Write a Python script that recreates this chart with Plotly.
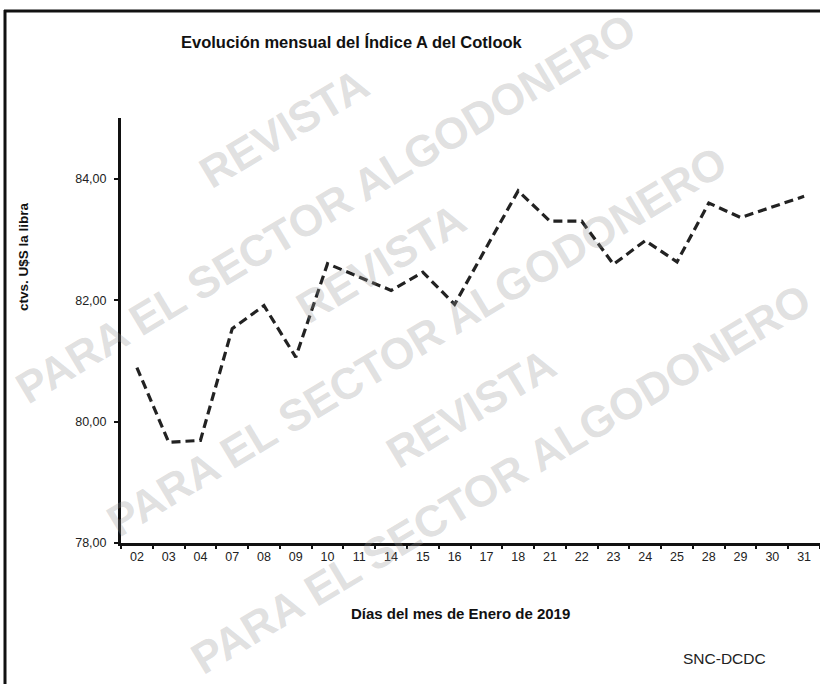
import plotly.graph_objects as go

days = ["02", "03", "04", "07", "08", "09", "10", "11", "14", "15", "16",
        "17", "18", "21", "22", "23", "24", "25", "28", "29", "30", "31"]
index_a = [80.89, 79.66, 79.69, 81.53, 81.91, 81.06, 82.60, 82.38, 82.16, 82.46, 81.93,
           82.87, 83.80, 83.30, 83.30, 82.59, 82.98, 82.63, 83.60, 83.36, 83.54, 83.71]
y_ticks = [78, 80, 82, 84]

title_text = "Evolución mensual del Índice A del Cotlook"
y_title = "ctvs. U$S la libra"
x_title = "Días del mes de Enero de 2019"
source_text = "SNC-DCDC"
wm_top = "REVISTA"
wm_line = "PARA EL SECTOR ALGODONERO"

W, H = 820, 684
ML, MR, MT, MB = 121, 0, 118, 141
PW = W - ML - MR
PH = H - MT - MB


def px(x):
    return (x - ML) / PW


def py(y):
    return (H - MB - y) / PH


fig = go.Figure()
fig.add_trace(go.Scatter(
    x=days, y=index_a, mode="lines",
    line=dict(color="#222222", width=3.2, dash="9px,5px"),
    hoverinfo="x+y", showlegend=False,
))

font_fam = "Liberation Sans, Arial, sans-serif"
annotations = []

# watermark
wm_color = "rgba(150,150,150,0.30)"
wm_rows = [((325, 208), (283, 128)), ((416, 341), (380, 263)), ((501, 478), (470, 408))]
for (lc, rc) in wm_rows:
    annotations.append(dict(text="<b>" + wm_line + "</b>", x=px(lc[0]), y=py(lc[1]),
                            xref="paper", yref="paper", showarrow=False, textangle=-31,
                            xanchor="center", yanchor="middle",
                            font=dict(family=font_fam, size=44, color=wm_color)))
    annotations.append(dict(text="<b>" + wm_top + "</b>", x=px(rc[0]), y=py(rc[1]),
                            xref="paper", yref="paper", showarrow=False, textangle=-31,
                            xanchor="center", yanchor="middle",
                            font=dict(family=font_fam, size=44, color=wm_color)))

annotations += [
    dict(text="<b>" + title_text + "</b>", x=px(352), y=py(42), xref="paper", yref="paper",
         showarrow=False, xanchor="center", yanchor="middle",
         font=dict(family=font_fam, size=16.5, color="#111111")),
    dict(text="<b>" + y_title + "</b>", x=px(23), y=py(257), xref="paper", yref="paper",
         showarrow=False, xanchor="center", yanchor="middle", textangle=-90,
         font=dict(family=font_fam, size=13.5, color="#111111")),
    dict(text="<b>" + x_title + "</b>", x=px(460), y=py(613), xref="paper", yref="paper",
         showarrow=False, xanchor="center", yanchor="middle",
         font=dict(family=font_fam, size=15, color="#111111")),
    dict(text=source_text, x=px(724), y=py(658), xref="paper", yref="paper",
         showarrow=False, xanchor="center", yanchor="middle",
         font=dict(family=font_fam, size=15.5, color="#222222")),
]

shapes = [
    dict(type="line", xref="paper", yref="paper", x0=px(5), x1=px(5), y0=py(10), y1=py(700),
         line=dict(color="#111111", width=3)),
    dict(type="line", xref="paper", yref="paper", x0=px(4), x1=px(830), y0=py(11), y1=py(11),
         line=dict(color="#111111", width=3)),
]

fig.update_layout(
    width=W, height=H,
    margin=dict(l=ML, r=MR, t=MT, b=MB),
    paper_bgcolor="white", plot_bgcolor="rgba(0,0,0,0)",
    separators=",.",
    showlegend=False,
    annotations=annotations,
    shapes=shapes,
    font=dict(family=font_fam, color="#222222"),
    xaxis=dict(
        type="category", categoryorder="array", categoryarray=days,
        showline=True, linecolor="#111111", linewidth=3,
        ticks="outside", tickson="boundaries", ticklen=3, tickwidth=2, tickcolor="#111111",
        showgrid=False, zeroline=False,
        tickfont=dict(family=font_fam, size=12.5, color="#222222"),
        range=[-0.5, len(days) - 0.5],
    ),
    yaxis=dict(
        range=[78, 85], tickvals=y_ticks, tickformat=".2f",
        showline=True, linecolor="#111111", linewidth=3,
        ticks="outside", ticklen=4, tickwidth=2, tickcolor="#111111",
        ticklabelstandoff=5,
        showgrid=False, zeroline=False,
        tickfont=dict(family=font_fam, size=12.5, color="#222222"),
    ),
)

fig.write_html("out.html", config={"displayModeBar": False},
               post_script="document.body.style.margin='0';document.body.style.padding='0';")
